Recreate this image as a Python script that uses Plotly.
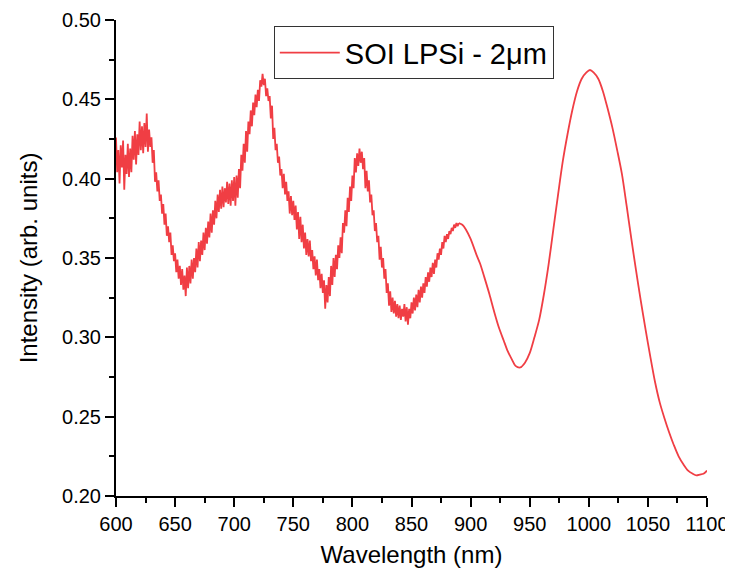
import plotly.graph_objects as go

# Noisy region, 1 nm steps 600..889
noisy_wl = list(range(600, 890))
noisy_val = [
    0.426, 0.404, 0.418, 0.397, 0.421, 0.407, 0.424, 0.393, 0.415, 0.403,
    0.422, 0.401, 0.419, 0.404, 0.427, 0.412, 0.430, 0.409, 0.428, 0.415,
    0.436, 0.418, 0.433, 0.416, 0.435, 0.420, 0.441, 0.417, 0.431, 0.420,
    0.426, 0.410, 0.418, 0.398, 0.404, 0.392, 0.399, 0.386, 0.390, 0.378,
    0.384, 0.371, 0.378, 0.364, 0.370, 0.360, 0.366, 0.352, 0.358, 0.348,
    0.353, 0.341, 0.349, 0.337, 0.345, 0.333, 0.343, 0.330, 0.339, 0.326,
    0.344, 0.331, 0.345, 0.334, 0.349, 0.337, 0.350, 0.341, 0.356, 0.344,
    0.360, 0.348, 0.361, 0.352, 0.366, 0.355, 0.369, 0.359, 0.373, 0.363,
    0.378, 0.366, 0.380, 0.371, 0.386, 0.375, 0.390, 0.379, 0.393, 0.381,
    0.395, 0.382, 0.394, 0.385, 0.398, 0.384, 0.397, 0.383, 0.399, 0.386,
    0.401, 0.383, 0.402, 0.388, 0.406, 0.394, 0.415, 0.405, 0.422, 0.410,
    0.430, 0.417, 0.436, 0.428, 0.443, 0.433, 0.448, 0.440, 0.453, 0.445,
    0.456, 0.449, 0.462, 0.458, 0.466, 0.459, 0.463, 0.452, 0.457, 0.449,
    0.452, 0.438, 0.446, 0.425, 0.432, 0.418, 0.422, 0.410, 0.414, 0.402,
    0.406, 0.394, 0.403, 0.390, 0.398, 0.386, 0.392, 0.378, 0.389, 0.377,
    0.386, 0.374, 0.383, 0.368, 0.379, 0.362, 0.376, 0.360, 0.371, 0.356,
    0.366, 0.352, 0.362, 0.351, 0.361, 0.348, 0.355, 0.343, 0.351, 0.339,
    0.349, 0.336, 0.343, 0.331, 0.340, 0.328, 0.336, 0.318, 0.333, 0.322,
    0.338, 0.326, 0.345, 0.333, 0.350, 0.338, 0.352, 0.343, 0.358, 0.350,
    0.363, 0.353, 0.372, 0.366, 0.380, 0.370, 0.388, 0.379, 0.395, 0.386,
    0.402, 0.394, 0.413, 0.404, 0.416, 0.408, 0.419, 0.410, 0.417, 0.406,
    0.413, 0.394, 0.405, 0.392, 0.399, 0.385, 0.390, 0.377, 0.380, 0.367,
    0.372, 0.360, 0.364, 0.349, 0.357, 0.344, 0.350, 0.337, 0.343, 0.328,
    0.334, 0.320, 0.329, 0.316, 0.325, 0.315, 0.323, 0.313, 0.321, 0.312,
    0.320, 0.311, 0.318, 0.313, 0.321, 0.310, 0.319, 0.308, 0.318, 0.312,
    0.322, 0.315, 0.325, 0.317, 0.327, 0.319, 0.330, 0.322, 0.332, 0.325,
    0.334, 0.328, 0.338, 0.332, 0.341, 0.335, 0.344, 0.338, 0.347, 0.340,
    0.349, 0.344, 0.353, 0.349, 0.356, 0.352, 0.360, 0.356, 0.364, 0.360,
    0.365, 0.362, 0.367, 0.365, 0.369, 0.367, 0.371, 0.369, 0.372, 0.370,
]

# Smooth region
smooth_wl = [890, 893, 896, 900, 905, 908, 912, 916, 920, 924, 928, 931, 935, 938,
             942, 946, 950, 954, 958, 962, 966, 970, 974, 978, 982, 986, 990, 994,
             998, 1001, 1004, 1008, 1012, 1016, 1020, 1024, 1028, 1032, 1036, 1040,
             1044, 1048, 1052, 1056, 1060, 1064, 1068, 1072, 1076, 1080, 1084, 1088,
             1091, 1094, 1097, 1100]
smooth_val = [0.372, 0.371, 0.368, 0.362, 0.352, 0.3465, 0.337, 0.327, 0.316, 0.306,
              0.298, 0.292, 0.286, 0.282, 0.281, 0.284, 0.290, 0.300, 0.311, 0.327,
              0.346, 0.368, 0.390, 0.411, 0.428, 0.443, 0.455, 0.463, 0.467, 0.4685,
              0.467, 0.463, 0.455, 0.444, 0.432, 0.418, 0.403, 0.383, 0.362, 0.342,
              0.323, 0.305, 0.288, 0.272, 0.259, 0.249, 0.240, 0.232, 0.225, 0.220,
              0.216, 0.214, 0.213, 0.2135, 0.214, 0.216]

x_ticks = [600, 650, 700, 750, 800, 850, 900, 950, 1000, 1050, 1100]
y_ticks = [0.20, 0.25, 0.30, 0.35, 0.40, 0.45, 0.50]
x_minor = [625, 675, 725, 775, 825, 875, 925, 975, 1025, 1075]
y_minor = [0.225, 0.275, 0.325, 0.375, 0.425, 0.475]

series_name = "SOI LPSi - 2μm"
line_color = "rgb(240,62,68)"
font_family = "Liberation Sans, Arial, sans-serif"

fig = go.Figure()
# noisy part (drawn as-is) and smooth part (spline) share one legend entry
fig.add_trace(go.Scatter(x=noisy_wl + [smooth_wl[0]], y=noisy_val + [smooth_val[0]], mode="lines",
                         name=series_name, legendgroup="s",
                         line=dict(color=line_color, width=1.8)))
fig.add_trace(go.Scatter(x=smooth_wl, y=smooth_val, mode="lines", name=series_name,
                         legendgroup="s", showlegend=False,
                         line=dict(color=line_color, width=1.8, shape="spline", smoothing=0.8)))

axis_common = dict(showline=True, linecolor="black", linewidth=2, ticks="outside",
                   ticklen=9, tickwidth=2, tickcolor="black", showgrid=False, zeroline=False,
                   automargin=False, tickfont=dict(size=20))

# page body has an 8px margin: figure sits at (8, 8) in the 733x572 window
fig.update_layout(
    width=725, height=564,
    margin=dict(l=108, r=26, t=12, b=76),
    paper_bgcolor="white", plot_bgcolor="white",
    font=dict(family=font_family, color="black"),
    showlegend=True,
    legend=dict(x=0.267, y=0.987, xanchor="left", yanchor="top",
                bordercolor="#333", borderwidth=1, bgcolor="white",
                font=dict(size=29, family=font_family), itemwidth=60,
                tracegroupgap=0),
)
fig.update_xaxes(range=[600, 1100], tickvals=x_ticks, ticktext=[str(v) for v in x_ticks],
                 title=dict(text="Wavelength (nm)", font=dict(size=24), standoff=12),
                 minor=dict(tickvals=x_minor, ticks="outside", ticklen=5, tickwidth=2,
                            tickcolor="black", showgrid=False),
                 **axis_common)
fig.update_yaxes(range=[0.20, 0.50], tickvals=y_ticks, ticktext=[f"{v:.2f}" for v in y_ticks],
                 title=dict(text="Intensity (arb. units)", font=dict(size=24), standoff=18),
                 minor=dict(tickvals=y_minor, ticks="outside", ticklen=5, tickwidth=2,
                            tickcolor="black", showgrid=False),
                 **axis_common)

fig.write_html("out.html")
